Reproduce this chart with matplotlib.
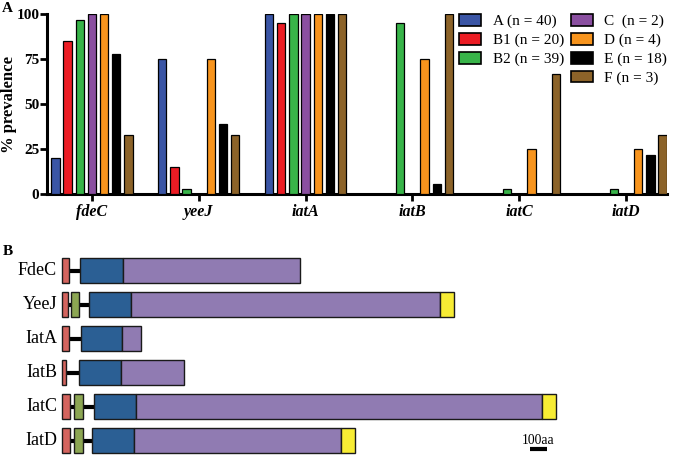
import matplotlib
matplotlib.use("Agg")
import matplotlib.pyplot as plt
from matplotlib.patches import Rectangle
import numpy as np

plt.rcParams['font.family'] = ['Liberation Serif', 'DejaVu Serif']

# ---------------- Panel A data ----------------
genes = ["fdeC", "yeeJ", "iatA", "iatB", "iatC", "iatD"]
groups = ["A (n = 40)", "B1 (n = 20)", "B2 (n = 39)", "C  (n = 2)",
          "D (n = 4)", "E (n = 18)", "F (n = 3)"]
group_colors = ["#3a55a5", "#ec1c24", "#38b449", "#8a4fa0",
                "#f7941d", "#000000", "#8c6329"]
prev_A  = [20, 75, 100, 0, 0, 0]
prev_B1 = [85, 15, 95, 0, 0, 0]
prev_B2 = [97, 3, 100, 95, 3, 3]
prev_C  = [100, 0, 100, 0, 0, 0]
prev_D  = [100, 75, 100, 75, 25, 25]
prev_E  = [78, 39, 100, 6, 0, 22]
prev_F  = [33, 33, 100, 100, 67, 33]
prevalence = [prev_A, prev_B1, prev_B2, prev_C, prev_D, prev_E, prev_F]
yticks = [0, 25, 50, 75, 100]

# ---------------- Panel B data (amino acid positions) ----------------
proteins = ["FdeC", "YeeJ", "IatA", "IatB", "IatC", "IatD"]
signal   = [(0, 43), (2, 36), (2, 42), (0, 24), (2, 51), (2, 51)]
green_d  = [None, (54, 101), None, None, (73, 125), (73, 125)]
blue_d   = [(109, 363), (164, 413), (117, 357), (103, 351), (192, 442), (182, 429)]
purple_d = [(363, 1418), (413, 2252), (357, 470), (351, 730), (442, 2861), (429, 1661)]
yellow_d = [None, (2252, 2337), None, None, (2861, 2942), (1661, 1748)]
scale_len = 100
scale_start = 2788

W, H = 675, 455
fig = plt.figure(figsize=(W/100, H/100), dpi=100)

# ---------------- Panel A ----------------
axA = fig.add_axes([47/W, 1-194.3/H, (667-47)/W, (194.3-14.3)/H])
x = np.arange(len(genes))
pitch = 0.114
bw = 0.078
for i, (vals, col, lab) in enumerate(zip(prevalence, group_colors, groups)):
    axA.bar(x + (i-3)*pitch, vals, width=bw, color=col, edgecolor="black",
            linewidth=0.9, label=lab, zorder=3)
axA.set_xlim(-0.421, 5.384)
axA.set_ylim(0, 100)
axA.set_yticks(yticks)
axA.set_yticklabels([str(t) for t in yticks], fontweight="bold", fontsize=11)
axA.set_xticks(x)
axA.set_xticklabels(genes, fontweight="bold", fontstyle="italic", fontsize=11.5)
for s in ["top", "right"]:
    axA.spines[s].set_visible(False)
for s in ["left", "bottom"]:
    axA.spines[s].set_linewidth(2.2)
axA.tick_params(axis="y", length=5, width=2.0, pad=0.5)
axA.tick_params(axis="x", length=5, width=2.0, pad=2)
axA.spines['left'].set_capstyle('projecting')
fig.text(9/W, 1-104.5/H, "% prevalence", rotation=90, ha="center", va="center",
         fontweight="bold", fontsize=12)

handles, labels = axA.get_legend_handles_labels()
blank = Rectangle((0, 0), 1, 1, fill=False, edgecolor="none", visible=False)
order_h = handles[:3] + [blank] + handles[3:]
order_l = labels[:3] + [""] + labels[3:]
leg = axA.legend(order_h, order_l, ncol=2, loc="upper left",
                 bbox_to_anchor=(459/W, 1-14/H), bbox_transform=fig.transFigure,
                 frameon=False, fontsize=11, handlelength=1.45, handleheight=0.8,
                 handletextpad=0.75, columnspacing=0.45, labelspacing=0.3,
                 borderpad=0, borderaxespad=0)
for h in leg.legend_handles:
    h.set_linewidth(1.2)

fig.text(2/W, 1-9/H, "A", fontweight="bold", fontsize=11, ha="left", va="center")
fig.text(3/W, 1-251/H, "B", fontweight="bold", fontsize=11, ha="left", va="center")

# ---------------- Panel B ----------------
ppa = 0.168  # pixels per aa
top_px, bot_px = 245, 455
axB = fig.add_axes([0, 0, 1, (bot_px-top_px)/H])
axB.set_xlim(-61.7/ppa, (W-61.7)/ppa)
row0, rowsp = 270.7, 34.0
axB.set_ylim((bot_px-row0)/rowsp, -(row0-top_px)/rowsp)
axB.axis("off")
bh = 25/34

def box(ax, seg, y, color):
    if seg is None:
        return
    ax.add_patch(Rectangle((seg[0], y-bh/2), seg[1]-seg[0], bh, facecolor=color,
                           edgecolor="#1a1a1a", linewidth=1.0, zorder=3))

for i, p in enumerate(proteins):
    # connector line
    axB.plot([signal[i][1], blue_d[i][0]], [i, i], color="black", lw=3.0,
             solid_capstyle="butt", zorder=2)
    box(axB, signal[i], i, "#d4645e")
    box(axB, green_d[i], i, "#8ca653")
    box(axB, blue_d[i], i, "#2b5f94")
    box(axB, purple_d[i], i, "#907bb2")
    box(axB, yellow_d[i], i, "#f7ec34")
    axB.text(-28, i, p, ha="right", va="center", fontsize=13)

axB.plot([scale_start, scale_start+scale_len], [5.24, 5.24], color="black", lw=3,
         solid_capstyle="butt")
axB.text(scale_start+scale_len/2, 4.99, "100aa", ha="center", va="center", fontsize=9.8)

fig.savefig("out.png", dpi=100)
